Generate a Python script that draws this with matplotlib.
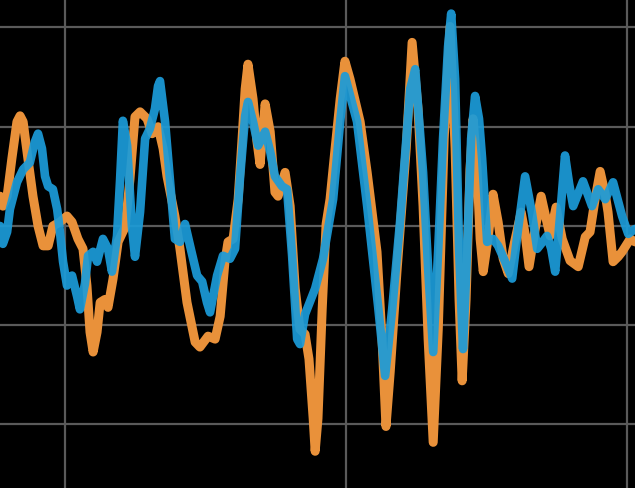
import matplotlib
matplotlib.use("Agg")
import matplotlib.pyplot as plt

# Series A (orange)
orange_x = [7.69, 7.79, 7.94, 8.11, 8.29, 8.40, 8.51, 8.68, 8.86, 9.04, 9.22, 9.40, 9.57, 9.82,
            10.07, 10.25, 10.46, 10.64, 10.78, 10.89, 11.00, 11.14, 11.25, 11.42, 11.53, 11.71,
            11.89, 12.14, 12.31, 12.49, 12.67, 12.92, 13.10, 13.31, 13.49, 13.63, 13.91, 14.09,
            14.34, 14.63, 14.80, 15.09, 15.34, 15.52, 15.69, 15.80, 15.98, 16.16, 16.30, 16.41,
            16.51, 16.69, 16.83, 16.94, 17.12, 17.30, 17.47, 17.58, 17.83, 18.01, 18.19, 18.36,
            18.54, 18.68, 18.83, 18.90, 19.00, 19.15, 19.29, 19.43, 19.61, 19.79, 19.96, 20.14,
            20.50, 20.75, 21.10, 21.28, 21.42, 21.57, 21.81, 22.14, 22.35, 22.56, 22.74, 22.92,
            23.10, 23.28, 23.49, 23.70, 23.88, 24.02, 24.13, 24.27, 24.41, 24.52, 24.66, 24.77,
            24.88, 25.05, 25.23, 25.41, 25.59, 25.77, 25.98, 26.23, 26.37, 26.51, 26.73, 26.94,
            27.12, 27.26, 27.47, 27.69, 27.97, 28.26, 28.51, 28.68, 28.86, 29.04, 29.22, 29.32,
            29.50, 29.68, 29.82, 30.11, 30.28]
orange_y = [0.30, 0.20, 0.30, 0.68, 1.05, 1.11, 1.05, 0.68, 0.30, 0.00, -0.20, -0.20, 0.00, 0.04,
            0.10, 0.04, -0.13, -0.23, -0.60, -1.07, -1.27, -1.07, -0.77, -0.74, -0.82, -0.53,
            -0.16, -0.01, 0.47, 1.10, 1.15, 1.08, 0.93, 1.00, 0.78, 0.50, 0.10, -0.23,
            -0.77, -1.17, -1.22, -1.11, -1.14, -0.91, -0.36, -0.16, -0.13, 0.27, 0.88, 1.38,
            1.63, 1.28, 0.85, 0.62, 1.23, 0.95, 0.34, 0.30, 0.54, 0.20, -0.63, -1.04,
            -1.09, -1.34, -1.94, -2.27, -1.94, -0.84, 0.02, 0.27, 0.78, 1.28, 1.66, 1.48,
            1.05, 0.54, -0.26, -1.14, -2.02, -1.47, -0.46, 0.78, 1.85, 1.18, 0.20, -1.14,
            -2.18, -1.04, 0.88, 2.01, 0.78, -0.74, -1.56, -0.74, 0.57, 1.08, 0.57, -0.13,
            -0.46, -0.13, 0.32, 0.04, -0.33, -0.48, -0.18, 0.14, -0.08, -0.41, -0.03, 0.30,
            0.07, -0.10, 0.19, -0.13, -0.35, -0.41, -0.11, -0.06, 0.27, 0.55, 0.32, 0.14,
            -0.36, -0.31, -0.26, -0.13, -0.16]

# Series B (blue)
blue_x = [7.69, 7.79, 7.94, 8.04, 8.29, 8.51, 8.75, 8.93, 9.04, 9.18, 9.29, 9.40, 9.57, 9.72,
          9.82, 9.93, 10.07, 10.25, 10.43, 10.53, 10.71, 10.82, 11.00, 11.14, 11.35, 11.53,
          11.67, 11.85, 11.96, 12.06, 12.21, 12.38, 12.49, 12.67, 12.85, 13.02, 13.20, 13.31,
          13.38, 13.56, 13.74, 13.91, 14.09, 14.27, 14.45, 14.70, 14.88, 15.05, 15.16, 15.41,
          15.62, 15.87, 16.05, 16.23, 16.41, 16.51, 16.69, 16.87, 17.12, 17.30, 17.47, 17.72,
          17.90, 18.08, 18.26, 18.36, 18.54, 18.90, 19.18, 19.54, 19.79, 19.96, 20.39, 20.75,
          21.14, 21.39, 21.64, 21.92, 22.28, 22.46, 22.74, 22.92, 23.10, 23.28, 23.45, 23.63,
          23.74, 23.88, 24.02, 24.16, 24.31, 24.45, 24.59, 24.73, 24.84, 25.02, 25.23, 25.41,
          25.66, 25.91, 26.12, 26.37, 26.62, 26.80, 26.94, 27.15, 27.30, 27.44, 27.62, 27.79,
          27.94, 28.08, 28.43, 28.75, 28.97, 29.22, 29.50, 29.82, 30.04, 30.28]
blue_y = [0.00, -0.18, -0.06, 0.17, 0.44, 0.57, 0.64, 0.85, 0.93, 0.78, 0.50, 0.40, 0.37, 0.17,
          -0.06, -0.36, -0.60, -0.50, -0.71, -0.84, -0.58, -0.30, -0.26, -0.36, -0.13, -0.23,
          -0.46, -0.10, 0.47, 1.06, 0.81, 0.00, -0.31, 0.14, 0.88, 0.98, 1.18, 1.41,
          1.46, 1.05, 0.44, -0.13, -0.16, 0.02, -0.20, -0.50, -0.56, -0.77, -0.87, -0.50,
          -0.30, -0.33, -0.23, 0.50, 1.11, 1.25, 1.05, 0.81, 0.95, 0.75, 0.50, 0.40,
          0.37, -0.30, -1.14, -1.19, -0.89, -0.63, -0.33, 0.27, 1.05, 1.51, 1.05, 0.20,
          -0.81, -1.51, -0.84, 0.04, 1.38, 1.58, 0.54, -0.43, -1.27, -0.23, 0.88, 1.81,
          2.14, 1.48, -0.23, -1.24, -0.23, 0.88, 1.31, 1.08, 0.68, -0.16, -0.13, -0.20,
          -0.36, -0.53, -0.03, 0.50, 0.12, -0.23, -0.18, -0.10, -0.23, -0.46, 0.12, 0.71,
          0.42, 0.20, 0.45, 0.20, 0.37, 0.27, 0.44, 0.10, -0.08, -0.03]

x_ticks = [10, 20, 30]
y_ticks = [-2, -1, 0, 1, 2]

fig = plt.figure(figsize=(6.35, 4.89), dpi=100, facecolor="black")
ax = fig.add_axes([0, 0, 1, 1])
ax.set_facecolor("black")

ax.plot(orange_x, orange_y, color="#E9913A", lw=6.5, solid_joinstyle="round",
        solid_capstyle="round", zorder=3)
ax.plot(blue_x, blue_y, color="#1C9BD8", lw=6.2, alpha=0.93, solid_joinstyle="round",
        solid_capstyle="round", zorder=4)

ax.set_xlim(7.687, 30.28)
ax.set_ylim(-2.64, 2.287)
ax.set_xticks(x_ticks)
ax.set_yticks(y_ticks)
ax.grid(True, color="#5a5a5a", lw=1.6, zorder=1)
ax.set_axisbelow(True)
ax.tick_params(length=0, labelbottom=False, labelleft=False)
for s in ax.spines.values():
    s.set_visible(False)

fig.savefig("out.png", dpi=100, facecolor="black")
